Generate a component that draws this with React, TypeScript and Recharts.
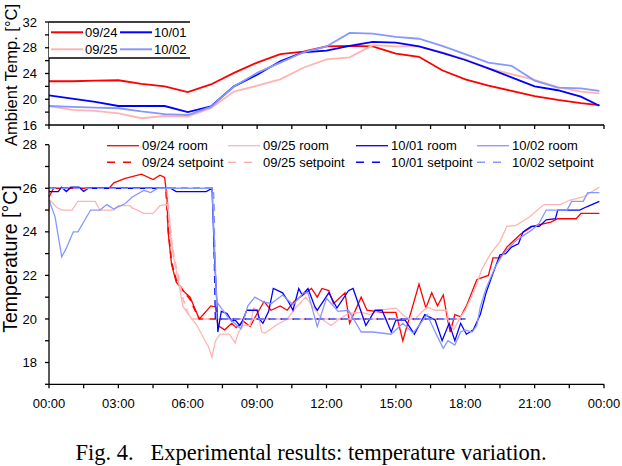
import { LineChart, Line, XAxis, YAxis } from "recharts";

const RED = "#ff0000";
const PINK = "#ffb4b4";
const BLUE = "#0000ff";
const LIGHT = "#8797ff";
const SANS = "'Liberation Sans', Arial, sans-serif";

// ambient temperature, one reading per hour
const ambientHours = [0, 1, 2, 3, 4, 5, 6, 7, 8, 9, 10, 11, 12, 13, 14, 15, 16, 17, 18, 19, 20, 21, 22, 23, 23.8];
const ambient0924 = [22.8, 22.8, 22.9, 22.95, 22.4, 22.0, 21.1, 22.3, 24.1, 25.7, 27.0, 27.4, 28.2, 28.3, 28.2, 27.1, 26.6, 24.5, 23.1, 22.1, 21.3, 20.5, 19.9, 19.4, 19.1];
const ambient0925 = [18.95, 18.35, 18.2, 17.8, 17.05, 17.4, 17.3, 18.6, 21.2, 22.1, 23.1, 24.9, 26.2, 26.5, 28.4, 28.2, 28.2, 27.3, 26.2, 24.8, 23.9, 23.0, 21.9, 21.2, 20.9];
const ambient1001 = [20.6, 20.1, 19.6, 18.95, 18.95, 18.95, 18.0, 18.9, 22.0, 23.8, 25.9, 27.3, 27.55, 28.3, 28.9, 28.8, 28.2, 27.2, 26.1, 24.8, 23.4, 22.0, 21.4, 20.4, 19.0];
const ambient1002 = [18.95, 18.8, 18.7, 18.6, 18.1, 17.7, 17.55, 18.8, 22.0, 24.1, 25.7, 27.3, 28.2, 30.3, 30.2, 29.7, 29.4, 28.3, 27.0, 25.7, 25.2, 22.9, 21.8, 21.7, 21.3];

// room temperature [hour, °C]
const room0924 = [[0, 25.6], [0.2, 26], [2.6, 26], [2.8, 26.25], [3.3, 26.45], [4, 26.65], [4.5, 26.4], [4.8, 26.6], [5, 26.5], [5.1, 25.6], [5.15, 24.0], [5.3, 22.5], [5.5, 21.7], [5.8, 21.3], [6.1, 21.0], [6.5, 20.0], [7, 20.6], [7.2, 20.55], [7.3, 19.7], [7.6, 19.5], [7.9, 19.8], [8.1, 19.6], [8.4, 19.9], [8.7, 19.65], [9, 20.25], [9.3, 20.8], [9.6, 20.4], [10, 20.6], [10.3, 20.4], [10.6, 20.8], [10.85, 21.0], [11.35, 21.4], [11.6, 21.0], [11.8, 21.4], [12.1, 21.3], [12.3, 20.7], [12.8, 21.2], [13, 19.8], [13.5, 21.0], [13.75, 20.4], [14.4, 20.3], [15, 20.3], [15.3, 19.0], [16, 21.6], [16.3, 20.5], [16.55, 21.2], [16.8, 20.6], [17.05, 21.1], [17.25, 19.9], [17.35, 19.4], [17.55, 20.2], [17.8, 20.1], [18.05, 20.6], [18.5, 21.8], [18.6, 21.85], [19, 22.0], [19.2, 22.8], [19.5, 22.8], [19.8, 23.3], [20.4, 23.9], [20.9, 24.25], [21.7, 24.45], [22, 24.6], [22.8, 24.6], [23, 24.85], [23.8, 24.85]];
const room0925 = [[0, 24.9], [0.05, 25.45], [0.3, 25.15], [0.55, 25.0], [1, 25.0], [1.25, 25.4], [2, 25.4], [2.2, 25.0], [2.8, 25.0], [3.0, 25.2], [3.5, 25.2], [3.6, 25.1], [4.1, 24.85], [4.5, 24.85], [4.8, 25.2], [5.1, 25.25], [5.2, 24.8], [5.3, 23.4], [5.45, 22.5], [5.6, 21.7], [5.75, 20.8], [5.8, 20.55], [6.4, 19.7], [6.7, 19.1], [6.9, 18.7], [7.05, 18.25], [7.2, 19.0], [7.4, 19.3], [7.8, 19.3], [8.05, 18.9], [8.2, 19.4], [8.4, 19.7], [8.7, 19.7], [8.85, 20.5], [9.0, 20.4], [9.2, 19.4], [9.35, 19.35], [9.8, 19.7], [10.3, 20.0], [10.7, 20.55], [11.1, 21.0], [11.85, 19.95], [12.2, 19.7], [12.5, 19.95], [12.95, 20.25], [13.5, 20.3], [13.9, 20.2], [14.25, 20.4], [15, 20.5], [15.4, 20.1], [15.8, 19.95], [16.1, 20.3], [16.35, 20.55], [16.7, 20.4], [17.2, 20.4], [17.3, 19.8], [17.5, 19.5], [17.8, 20.1], [18.0, 20.4], [18.3, 21.1], [18.5, 21.6], [18.7, 22.25], [19.1, 23.0], [19.5, 23.55], [19.8, 24.25], [20.2, 24.3], [20.8, 24.7], [21.4, 25.25], [22.1, 25.25], [22.5, 25.45], [23.1, 25.6], [23.8, 26.05]];
const room1001 = [[0, 25.85], [0.4, 25.85], [0.55, 26.05], [0.75, 25.85], [0.95, 26.05], [1.3, 26.05], [1.5, 25.85], [1.7, 26.0], [5.25, 26.0], [5.5, 25.85], [6.8, 25.85], [7.05, 26.0], [7.15, 23.0], [7.25, 20.95], [7.3, 19.4], [7.45, 20.35], [7.7, 20.25], [7.9, 19.9], [8.05, 19.95], [8.25, 19.7], [8.4, 20.0], [8.55, 20.4], [9.0, 20.4], [9.1, 20.0], [9.25, 19.8], [9.5, 20.35], [9.7, 21.4], [10.1, 21.2], [10.35, 20.8], [10.55, 20.4], [10.8, 21.4], [10.95, 21.1], [11.2, 21.4], [11.5, 20.55], [11.6, 20.4], [12.1, 21.2], [12.45, 20.5], [12.95, 21.3], [13.15, 21.4], [13.7, 19.7], [14.1, 20.4], [14.4, 20.4], [14.8, 19.4], [15.0, 19.95], [15.4, 19.95], [15.8, 19.3], [16.25, 20.2], [16.7, 19.95], [17.0, 19.0], [17.3, 19.8], [17.55, 19.0], [17.8, 19.8], [18.05, 19.3], [18.35, 19.5], [18.65, 20.2], [18.9, 21.2], [19.2, 22.1], [19.5, 22.95], [19.75, 23.0], [20.0, 23.3], [20.3, 23.45], [20.5, 24.0], [20.85, 24.25], [21.2, 24.25], [21.5, 24.55], [21.9, 24.6], [22.0, 25.0], [22.95, 25.0], [23.25, 25.15], [23.8, 25.4]];
const room1002 = [[0, 25.45], [0.26, 24.7], [0.55, 22.85], [0.75, 23.25], [1.05, 24.0], [1.25, 24.0], [1.8, 25.0], [2.2, 25.0], [2.5, 25.25], [2.8, 25.05], [3.3, 25.3], [3.6, 25.6], [4.1, 25.9], [4.4, 25.8], [4.7, 26.0], [7.05, 26.0], [7.15, 23.5], [7.25, 20.8], [7.45, 20.5], [7.8, 20.0], [8.3, 19.55], [8.6, 20.6], [8.9, 21.0], [9.25, 20.8], [9.6, 20.7], [10.1, 21.1], [10.55, 20.65], [11.0, 21.2], [11.2, 21.2], [11.6, 19.65], [12.0, 20.95], [12.5, 20.35], [12.95, 20.4], [13.5, 19.4], [14.0, 19.4], [14.8, 19.3], [15.3, 19.8], [15.75, 19.35], [16.35, 20.2], [16.7, 19.4], [17.05, 18.65], [17.25, 19.0], [17.55, 18.8], [17.8, 19.4], [18.0, 19.5], [18.3, 19.4], [18.5, 19.7], [18.65, 20.55], [18.9, 21.4], [19.3, 22.4], [19.65, 23.0], [20.2, 23.6], [20.9, 24.1], [21.2, 24.4], [21.5, 25.0], [22.4, 25.0], [22.6, 25.4], [23.1, 25.4], [23.3, 25.8], [23.8, 25.8]];

// setpoints [hour, °C]
const set0924 = [[0, 26], [5.05, 26], [5.15, 24.2], [5.3, 22.6], [5.5, 21.8], [5.8, 21.3], [6.1, 20.9], [6.4, 20.2], [6.5, 20], [18, 20]];
const set0925 = [[0, 26], [5.1, 26], [5.2, 24.6], [5.35, 23.2], [5.5, 22.4], [5.65, 21.7], [5.8, 20.9], [6.0, 20.3], [6.1, 20], [18, 20]];
const set1001 = [[0, 26], [7.1, 26], [7.2, 20], [18, 20]];
const set1002 = [[0, 26], [7.1, 26], [7.25, 20], [18, 20]];

const hourTicks = [0, 1.5, 3, 4.5, 6, 7.5, 9, 10.5, 12, 13.5, 15, 16.5, 18, 19.5, 21, 22.5, 24];
const ambientTicks = [16, 18, 20, 22, 24, 26, 28, 30, 32];
const roomTicks = [17, 18, 19, 20, 21, 22, 23, 24, 25, 26, 27, 28];

const ambientSeries = [
  { name: "09/24", color: RED, values: ambient0924 },
  { name: "09/25", color: PINK, values: ambient0925 },
  { name: "10/01", color: BLUE, values: ambient1001 },
  { name: "10/02", color: LIGHT, values: ambient1002 },
];

// legend order (room row, then setpoint row)
const roomSeries = [
  { name: "09/24 room", color: RED, points: room0924, dashed: false },
  { name: "09/25 room", color: PINK, points: room0925, dashed: false },
  { name: "10/01 room", color: BLUE, points: room1001, dashed: false },
  { name: "10/02 room", color: LIGHT, points: room1002, dashed: false },
  { name: "09/24 setpoint", color: RED, points: set0924, dashed: true },
  { name: "09/25 setpoint", color: PINK, points: set0925, dashed: true },
  { name: "10/01 setpoint", color: BLUE, points: set1001, dashed: true },
  { name: "10/02 setpoint", color: LIGHT, points: set1002, dashed: true },
];
// drawing order: each day's room, then its setpoint
const drawOrder = [0, 4, 1, 5, 2, 6, 3, 7].map((i) => roomSeries[i]);

const toRows = (pairs: number[][]) => pairs.map(([t, v]) => ({ t, v }));
const ambientRows = (values: number[]) => ambientHours.map((t, i) => ({ t, v: values[i] }));

const clock = (v: number) => (v % 3 === 0 ? `${String(v % 24).padStart(2, "0")}:00` : "");

const axisProps = {
  stroke: "#000",
  strokeWidth: 1.3,
  tickSize: 4,
  interval: 0 as const,
};
const tickStyle = { fill: "#000", fontSize: 13, fontFamily: SANS };

const AmbientChart = () => (
  <LineChart width={622} height={133} margin={{ top: 22, right: 18, left: 0, bottom: 0 }}>
    <XAxis
      type="number"
      dataKey="t"
      domain={[0, 24]}
      ticks={hourTicks}
      tickFormatter={() => ""}
      height={8}
      {...axisProps}
    />
    <YAxis
      type="number"
      domain={[16, 32]}
      ticks={ambientTicks}
      tickFormatter={(v) => (v % 4 === 0 ? String(v) : "")}
      width={49}
      tickMargin={8}
      tick={tickStyle}
      {...axisProps}
    />
    {ambientSeries.map((s) => (
      <Line
        key={s.name}
        data={ambientRows(s.values)}
        dataKey="v"
        stroke={s.color}
        strokeWidth={1.8}
        dot={false}
        isAnimationActive={false}
      />
    ))}
  </LineChart>
);

const RoomChart = () => (
  <LineChart width={622} height={300} margin={{ top: 14.7, right: 18, left: 0, bottom: 15.7 }}>
    <XAxis
      type="number"
      dataKey="t"
      domain={[0, 24]}
      ticks={hourTicks}
      tickFormatter={clock}
      height={30}
      tickMargin={10}
      tick={tickStyle}
      {...axisProps}
    />
    <YAxis
      type="number"
      domain={[17, 28]}
      ticks={roomTicks}
      tickFormatter={(v) => (v % 2 === 0 ? String(v) : "")}
      width={49}
      tickMargin={8}
      tick={tickStyle}
      {...axisProps}
    />
    {drawOrder.map((s) => (
      <Line
        key={s.name}
        data={toRows(s.points)}
        dataKey="v"
        stroke={s.color}
        strokeWidth={s.dashed ? 1.6 : 1.3}
        strokeDasharray={s.dashed ? "7 5" : undefined}
        dot={false}
        isAnimationActive={false}
      />
    ))}
  </LineChart>
);

const Overlay = () => {
  const topCols = [51, 120];
  const roomCols = [107, 228, 356, 477];
  return (
    <svg width={622} height={466} style={{ position: "absolute", left: 0, top: 0, pointerEvents: "none" }}>
      <rect x={49} y={22} width={141} height={36} fill="#fff" />
      <line x1={49} x2={190} y1={22} y2={22} stroke="#000" strokeWidth={1.3} />
      <line x1={49} x2={190} y1={58} y2={58} stroke="#000" strokeWidth={1.3} />
      {ambientSeries.map((s, i) => {
        const x = topCols[Math.floor(i / 2)];
        const y = i % 2 === 0 ? 32.3 : 49.3;
        return (
          <g key={s.name}>
            <line x1={x} x2={x + 32} y1={y} y2={y} stroke={s.color} strokeWidth={2} />
            <text x={x + 34} y={y + 4.5} fontSize={13} fontFamily={SANS} fill="#000">
              {s.name}
            </text>
          </g>
        );
      })}
      {roomSeries.map((s, i) => {
        const x = roomCols[i % 4];
        const y = s.dashed ? 162.3 : 145.7;
        return (
          <g key={s.name}>
            <line
              x1={x}
              x2={x + 32}
              y1={y}
              y2={y}
              stroke={s.color}
              strokeWidth={s.dashed ? 1.6 : 1.3}
              strokeDasharray={s.dashed ? "8 8" : undefined}
            />
            <text x={x + 35} y={y + 4.5} fontSize={13} fontFamily={SANS} fill="#000">
              {s.name}
            </text>
          </g>
        );
      })}
      <text
        transform="translate(17 75) rotate(-90)"
        textAnchor="middle"
        fontSize={16.5}
        fontFamily={SANS}
        fill="#000"
      >
        Ambient Temp. [°C]
      </text>
      <text
        transform="translate(16.5 259) rotate(-90)"
        textAnchor="middle"
        fontSize={19.5}
        fontFamily={SANS}
        fill="#000"
      >
        Temperature [°C]
      </text>
      <text
        x={311}
        y={460}
        textAnchor="middle"
        fontSize={22.5}
        fontFamily="'Liberation Serif', 'Times New Roman', serif"
        fill="#000"
        style={{ whiteSpace: "pre" }}
      >
        {"Fig. 4.   Experimental results: temperature variation."}
      </text>
    </svg>
  );
};

export default function App() {
  return (
    <div style={{ position: "absolute", left: 0, top: 0, width: 622, height: 466, background: "#fff" }}>
      <div style={{ position: "absolute", left: 0, top: 0 }}>
        <AmbientChart />
      </div>
      <div style={{ position: "absolute", left: 0, top: 130 }}>
        <RoomChart />
      </div>
      <Overlay />
    </div>
  );
}
